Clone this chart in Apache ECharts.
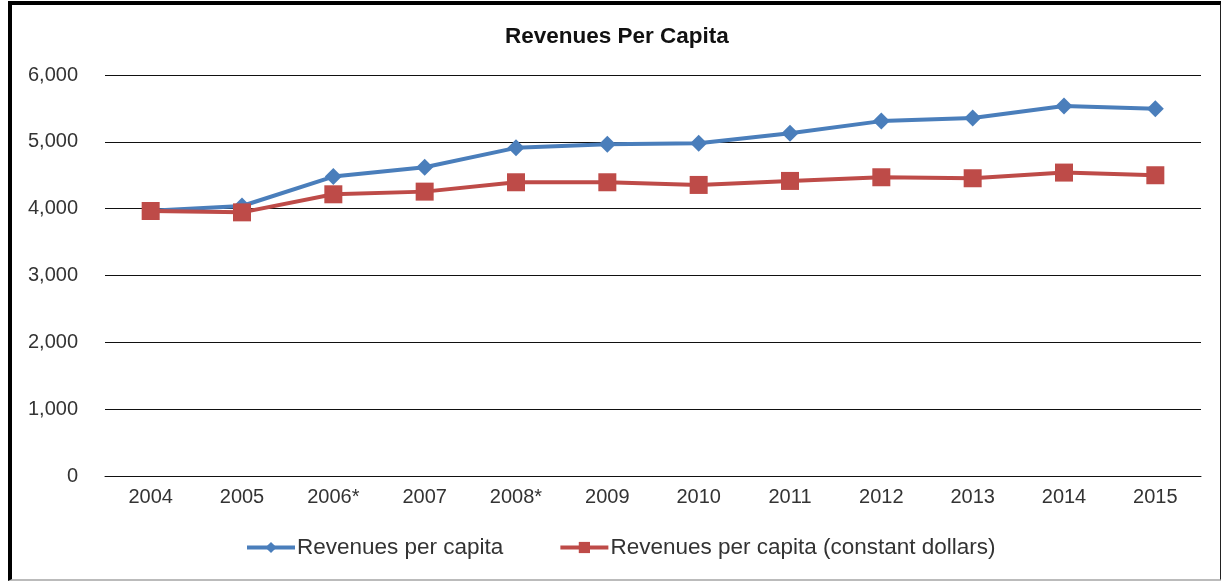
<!DOCTYPE html>
<html>
<head>
<meta charset="utf-8">
<script src="https://cdn.jsdelivr.net/npm/echarts@6/dist/echarts.min.js"></script>
<style>
  html, body { margin: 0; padding: 0; background: #fff; }
  #wrap { position: relative; width: 1221px; height: 581px; overflow: hidden; }
  #chart { position: absolute; left: 0; top: 0; width: 1221px; height: 581px; }
  #frame { position: absolute; left: 8px; top: 1px; width: 1208px; height: 574px;
           border-left: 4px solid #000; border-top: 4px solid #000;
           border-right: 2px solid #222; border-bottom: 2px solid #bbb; pointer-events: none; }
</style>
</head>
<body>
<div id="wrap">
  <div id="chart"></div>
  <div id="frame"></div>
</div>
<script>
// Years on the category axis
const years = ['2004', '2005', '2006*', '2007', '2008*', '2009', '2010', '2011', '2012', '2013', '2014', '2015'];
// Revenues per capita, nominal dollars
const revenuesPerCapita = [3970, 4040, 4480, 4620, 4910, 4965, 4980, 5130, 5310, 5355, 5535, 5495];
// Revenues per capita, constant dollars
const revenuesConstant = [3965, 3945, 4215, 4255, 4395, 4395, 4355, 4415, 4470, 4455, 4540, 4500];
// Value axis ticks
const yMin = 0, yMax = 6000, yStep = 1000;

const FONT = 'Liberation Sans, Arial, sans-serif';
const chart = echarts.init(document.getElementById('chart'), null, { renderer: 'canvas' });

chart.setOption({
  animation: false,
  backgroundColor: '#fff',
  title: {
    text: 'Revenues Per Capita',
    left: 505,
    top: 25,
    padding: 0,
    textStyle: { fontFamily: FONT, fontSize: 22.5, fontWeight: 'bold', color: '#111' }
  },
  grid: { left: 105, right: 20, top: 75, bottom: 105, containLabel: false },
  legend: {
    bottom: 17,
    left: 240,
    itemWidth: 48,
    itemHeight: 14,
    itemGap: 55,
    lineStyle: { width: 4 },
    textStyle: { fontFamily: FONT, fontSize: 22.5, color: '#333', padding: [0, 0, 0, -3] },
    data: ['Revenues per capita', 'Revenues per capita (constant dollars)']
  },
  xAxis: {
    type: 'category',
    data: years,
    boundaryGap: true,
    axisLine: { show: true, lineStyle: { color: '#111', width: 1 } },
    axisTick: { show: false },
    axisLabel: { fontFamily: FONT, fontSize: 20, color: '#333', margin: 11 }
  },
  yAxis: {
    type: 'value',
    min: yMin, max: yMax, interval: yStep,
    axisLine: { show: false },
    axisTick: { show: false },
    splitLine: { lineStyle: { color: '#111', width: 1 } },
    axisLabel: {
      fontFamily: FONT, fontSize: 20, color: '#333', margin: 27,
      formatter: v => v.toLocaleString('en-US')
    }
  },
  series: [
    {
      name: 'Revenues per capita',
      type: 'line',
      data: revenuesPerCapita,
      symbol: 'diamond',
      symbolSize: 17,
      lineStyle: { color: '#4a7ebb', width: 4 },
      itemStyle: { color: '#4a7ebb' }
    },
    {
      name: 'Revenues per capita (constant dollars)',
      type: 'line',
      data: revenuesConstant,
      symbol: 'rect',
      symbolSize: 18,
      lineStyle: { color: '#be4b48', width: 4 },
      itemStyle: { color: '#be4b48' }
    }
  ]
});
</script>
</body>
</html>
